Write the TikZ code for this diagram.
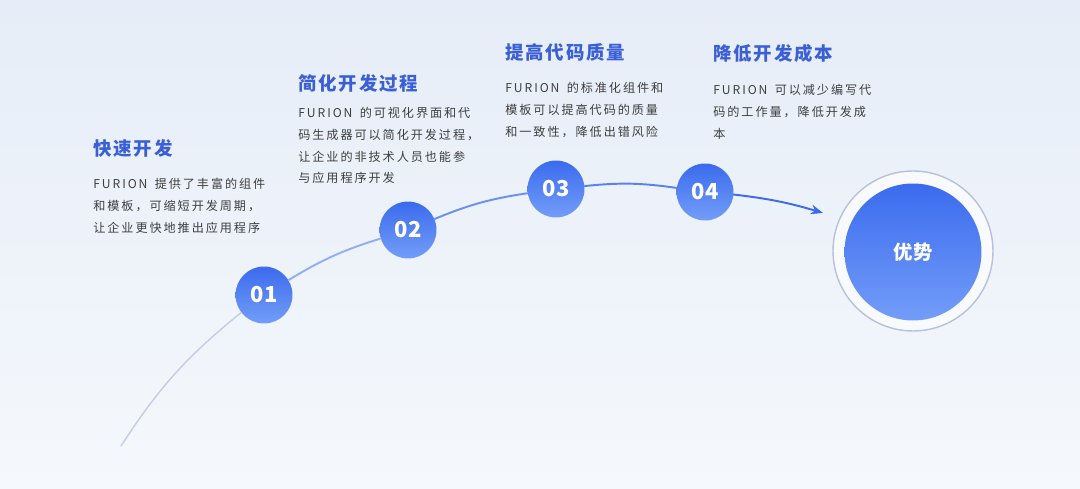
\documentclass[tikz,border=0pt]{standalone}
\usepackage{fontspec}
\newfontfamily\cjk{Noto Sans CJK SC}
\newfontfamily\cjkbody[LetterSpace=16]{Noto Sans CJK SC}
\newfontfamily\cjktitle[LetterSpace=10]{Noto Sans CJK SC}
\usetikzlibrary{arrows.meta, positioning}

\definecolor{mainblue}{HTML}{3B6BEE}
\definecolor{lightblue}{HTML}{739DF8}
\definecolor{titleblue}{HTML}{3A5FD6}
\definecolor{bodygray}{HTML}{3E3E3E}
\definecolor{bgtop}{HTML}{E6EDF8}
\definecolor{bgbot}{HTML}{F5F8FC}
\definecolor{ringgray}{HTML}{B7C1DD}

\newcommand{\brand}{FURION\hspace{0.6em}}

\tikzset{
  numdot/.style={circle, minimum size=1.14cm, inner sep=0pt, top color=mainblue, bottom color=lightblue,
    text=white, font=\cjk\bfseries\fontsize{12.5}{14}\selectfont},
  steptitle/.style={anchor=west, inner sep=0pt, text=titleblue, font=\cjktitle\bfseries\fontsize{10.5}{12}\selectfont},
  stepbody/.style={anchor=north west, inner sep=0pt, align=left, text=bodygray,
    font=\cjkbody\fontsize{6.9}{12.4}\selectfont},
  arc/.style={line width=1.1pt, line cap=round}
}

\begin{document}
\begin{tikzpicture}[x=0.02cm, y=-0.02cm]
        \useasboundingbox (0,0) rectangle (1080,489);
        \shade[top color=bgtop, bottom color=bgbot] (0,0) rectangle (1080,489);

        % steps along the arc
        \node[numdot] (n1) at (264,295) {01};
        \node[numdot] (n2) at (408,230) {02};
        \node[numdot] (n3) at (556,189) {03};
        \node[numdot] (n4) at (705,192) {04};
        \coordinate (start) at (121,446);
        \coordinate (tip) at (823,213);

        \draw[arc, color=ringgray!80!white, line width=0.8pt] (start) to[bend left=9] (n1);
        \draw[arc, color=mainblue!55!white] (n1) to[bend left=7] (n2);
        \draw[arc, color=mainblue!75!white] (n2) to[bend left=7] (n3);
        \draw[arc, color=mainblue!85!white] (n3) to[bend left=7] (n4);
        \draw[arc, color=mainblue, -{Stealth[length=7pt, width=5.5pt]}] (n4) to[bend left=5] (tip);

        % result
        \node[circle, minimum size=3.2cm, fill=white!70!bgtop, draw=ringgray, line width=0.8pt] (ring) at (913,251) {};
        \node[circle, minimum size=2.74cm, top color=mainblue, bottom color=lightblue, text=white,
          font=\cjk\bfseries\fontsize{11}{13}\selectfont] (adv) at (913,252) {优势};

        % texts
        \node[steptitle] (t1) at (93,148) {快速开发};
        \node[stepbody] (d1) at (93,178) {\brand 提供了丰富的组件\\和模板，可缩短开发周期，\\让企业更快地推出应用程序};
        \node[steptitle] (t2) at (298,83) {简化开发过程};
        \node[stepbody] (d2) at (298,107) {\brand 的可视化界面和代\\码生成器可以简化开发过程，\\让企业的非技术人员也能参\\与应用程序开发};
        \node[steptitle] (t3) at (505,52) {提高代码质量};
        \node[stepbody] (d3) at (505,82) {\brand 的标准化组件和\\模板可以提高代码的质量\\和一致性，降低出错风险};
        \node[steptitle] (t4) at (713,53) {降低开发成本};
        \node[stepbody] (d4) at (713,84) {\brand 可以减少编写代\\码的工作量，降低开发成\\本};
    \end{tikzpicture}
\end{document}
